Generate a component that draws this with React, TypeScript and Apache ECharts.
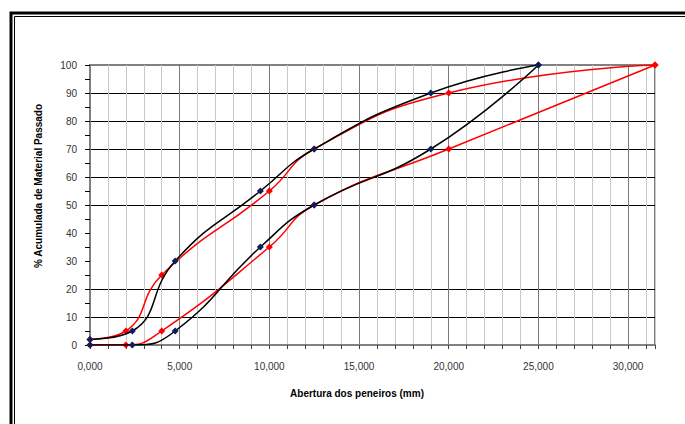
import React, { useEffect, useRef } from "react";
import * as echarts from "echarts";

const blackX = [0, 2.36, 4.75, 9.5, 12.5, 19, 25];
const blackUpper = [2, 5, 30, 55, 70, 90, 100];
const blackLower = [0, 0, 5, 35, 50, 70, 100];

const redX = [0, 2, 4, 10, 12.5, 20, 31.5];
const redUpper = [2, 5, 25, 55, 70, 90, 100];
const redLower = [0, 0, 5, 35, 50, 70, 100];

const xTitle = "Abertura dos peneiros (mm)";
const yTitle = "% Acumulada de Material Passado";

const pairs = (xs: number[], ys: number[]) => xs.map((x, i) => [x, ys[i]]);

export default function App() {
  const ref = useRef<HTMLDivElement>(null);
  useEffect(() => {
    if (!ref.current) return;
    const chart = echarts.init(ref.current, null, { renderer: "svg" });
    const font = "Liberation Sans, Arial, sans-serif";
    const lineSeries = (data: number[][], color: string, marker: string) => ({
      type: "line",
      data,
      smooth: 0.5,
      symbol: "diamond",
      symbolSize: 7,
      showSymbol: true,
      lineStyle: { color, width: 1.5 },
      itemStyle: { color: marker },
      z: color === "#000000" ? 4 : 3,
    });
    chart.setOption({
      animation: false,
      backgroundColor: "#ffffff",
      grid: {
        left: 90,
        top: 65,
        right: 30,
        bottom: 79,
        show: true,
        borderColor: "#808080",
        borderWidth: 2,
      },
      xAxis: {
        type: "value",
        min: 0,
        max: 31.5,
        interval: 1,
        axisLine: { show: true, lineStyle: { color: "#808080", width: 2 } },
        axisTick: { show: true, length: 4, lineStyle: { color: "#404040" } },
        axisLabel: {
          interval: 0,
          margin: 16,
          fontFamily: font,
          fontSize: 10,
          color: "#333333",
          formatter: (v: number) =>
            Math.abs(v % 5) < 1e-9 ? v.toFixed(3).replace(".", ",") : "",
        },
        splitLine: {
          show: true,
          lineStyle: {
            color: ["#7a7a7a", "#c8c8c8", "#c8c8c8", "#c8c8c8", "#c8c8c8"],
            width: 1,
          },
        },
      },
      yAxis: {
        type: "value",
        min: 0,
        max: 100,
        interval: 10,
        axisLine: { show: true, lineStyle: { color: "#808080", width: 2 } },
        axisTick: { show: true, length: 5, lineStyle: { color: "#000000" } },
        minorTick: { show: true, splitNumber: 2, length: 5, lineStyle: { color: "#000000" } },
        axisLabel: {
          margin: 13,
          fontFamily: font,
          fontSize: 10,
          color: "#333333",
        },
        splitLine: {
          show: true,
          lineStyle: {
            color: [
              "#000000",
              "#000000",
              "#000000",
              "rgba(0,0,0,0)",
              "rgba(0,0,0,0)",
              "#000000",
              "#000000",
              "#000000",
              "#000000",
              "#000000",
              "#808080",
            ],
            width: 1,
          },
        },
      },
      graphic: [
        {
          type: "rect",
          shape: { x: 11, y: 13, width: 700, height: 440 },
          style: { fill: "none", stroke: "#000000", lineWidth: 3 },
          silent: true,
        },
        {
          type: "rect",
          shape: { x: 14.5, y: 16.5, width: 700, height: 440 },
          style: { fill: "none", stroke: "#000000", lineWidth: 1 },
          silent: true,
        },
        {
          type: "text",
          x: 357,
          y: 393,
          style: {
            text: xTitle,
            fontFamily: font,
            fontSize: 10,
            fontWeight: "bold",
            fill: "#000000",
            align: "center",
            verticalAlign: "middle",
          },
        },
        {
          type: "text",
          x: 38,
          y: 186,
          rotation: Math.PI / 2,
          style: {
            text: yTitle,
            fontFamily: font,
            fontSize: 10,
            fontWeight: "bold",
            fill: "#000000",
            align: "center",
            verticalAlign: "middle",
          },
        },
      ],
      series: [
        lineSeries(pairs(redX, redUpper), "#ff0000", "#ff0000"),
        lineSeries(pairs(redX, redLower), "#ff0000", "#ff0000"),
        lineSeries(pairs(blackX, blackUpper), "#000000", "#0b1f5c"),
        lineSeries(pairs(blackX, blackLower), "#000000", "#0b1f5c"),
      ],
    });
    return () => chart.dispose();
  }, []);
  return (
    <div
      ref={ref}
      style={{ position: "fixed", left: 0, top: 0, width: 685, height: 424, background: "#fff" }}
    />
  );
}
